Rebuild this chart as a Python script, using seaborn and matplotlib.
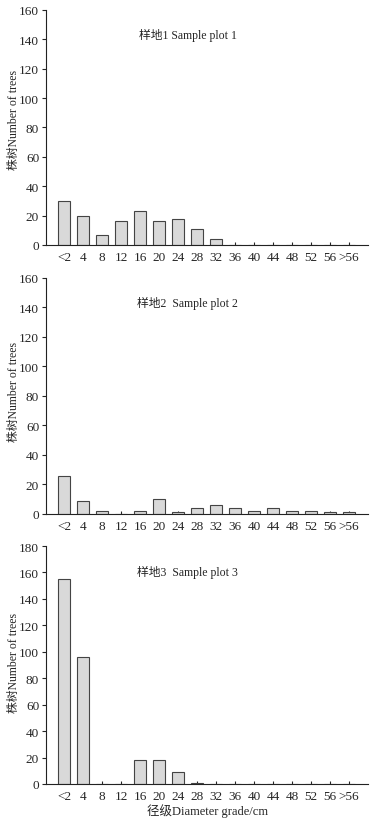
import matplotlib
matplotlib.use("Agg")
import matplotlib.pyplot as plt
import pandas as pd
import seaborn as sns

# Clases diamétricas y número de árboles por parcela
clases = ['<2', '4', '8', '12', '16', '20', '24', '28', '32', '36', '40', '44', '48', '52', '56', '>56']
parcela1 = [30, 20, 7, 16, 23, 16, 18, 11, 4, 0, 0, 0, 0, 0, 0, 0]
parcela2 = [26, 9, 2, 0, 2, 10, 1, 4, 6, 4, 2, 4, 2, 2, 1, 1]
parcela3 = [155, 96, 0, 0, 18, 18, 9, 1, 0, 0, 0, 0, 0, 0, 0, 0]

titulos = ['样地1 Sample plot 1', '样地2  Sample plot 2', '样地3  Sample plot 3']
ylims = [160, 160, 180]
ylabel = '株树Number of trees'
xlabel = '径级Diameter grade/cm'

sns.set_style("ticks")
plt.rcParams['font.family'] = ['Liberation Serif', 'Noto Sans CJK SC']
plt.rcParams['font.size'] = 8

fig = plt.figure(figsize=(3.81, 8.20), dpi=100)
# posiciones de los ejes [left, bottom, width, height]
posiciones = [[0.121, 0.700, 0.845, 0.2866],
              [0.121, 0.372, 0.845, 0.2878],
              [0.121, 0.0427, 0.845, 0.2902]]
# posición vertical de la etiqueta del eje y
ylab_pos = [0.536, 0.52, 0.513]

for i, valores in enumerate([parcela1, parcela2, parcela3]):
    ax = fig.add_axes(posiciones[i])
    df = pd.DataFrame({'clase': clases, 'n': valores})
    sns.barplot(data=df, x='clase', y='n', ax=ax, color='#d9d9d9',
                edgecolor='#444444', linewidth=0.8, width=0.6, saturation=1)
    ax.set_xlim(-0.95, 16.0)
    ax.set_ylim(0, ylims[i])
    ax.set_yticks(range(0, ylims[i] + 1, 20))
    sns.despine(ax=ax)
    ax.tick_params(axis='y', direction='out', length=3, width=0.8, labelsize=9.5, pad=2)
    ax.tick_params(axis='x', direction='in', length=2.5, width=0.8, labelsize=9.5, pad=4)
    for s in ['left', 'bottom']:
        ax.spines[s].set_linewidth(0.8)
        ax.spines[s].set_color('#222222')
    ax.set_ylabel(ylabel, fontsize=8.5)
    ax.yaxis.set_label_coords(-0.082, ylab_pos[i])
    ax.set_xlabel(xlabel if i == 2 else '', fontsize=9, labelpad=1)
    ax.text(0.44, 0.895, titulos[i], transform=ax.transAxes, ha='center', va='center', fontsize=8.5)

fig.savefig('out.png', dpi=100)
